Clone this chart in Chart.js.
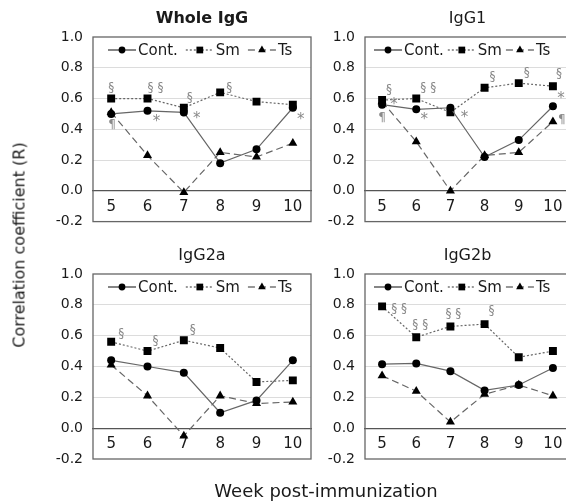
<!DOCTYPE html>
<html><head><meta charset="utf-8">
<script src="https://cdn.jsdelivr.net/npm/chart.js@4/dist/chart.umd.min.js"></script>
<style>
html,body{margin:0;padding:0;width:566px;height:504px;overflow:hidden;background:#fff;}
canvas{position:absolute;}
#ylab{position:absolute;left:19px;top:245px;transform:translate(-50%,-50%) rotate(-90deg);white-space:nowrap;font:16px 'DejaVu Sans';color:#1a1a1a;}
#xlab{position:absolute;left:326px;top:490px;transform:translate(-50%,-50%);white-space:nowrap;font:18px 'DejaVu Sans';color:#1a1a1a;}
</style></head>
<body>
<canvas id="c0" width="292" height="240" style="left:28px;top:0px;width:292px;height:240px"></canvas>
<canvas id="c1" width="282" height="240" style="left:298px;top:0px;width:282px;height:240px"></canvas>
<canvas id="c2" width="292" height="240" style="left:28px;top:240px;width:292px;height:240px"></canvas>
<canvas id="c3" width="282" height="240" style="left:298px;top:240px;width:282px;height:240px"></canvas>
<div id="ylab">Correlation coefficient (R)</div>
<div id="xlab">Week post-immunization</div>
<script>
// ---- data ----
const weeks = ['5','6','7','8','9','10'];
const seriesNames = ['Cont.','Sm','Ts'];
const panelTitles = ['Whole IgG','IgG1','IgG2a','IgG2b'];
const yTicks = [-0.2,0.0,0.2,0.4,0.6,0.8,1.0];

const wholeCont = [0.50,0.52,0.51,0.18,0.27,0.54];
const wholeSm   = [0.60,0.60,0.54,0.64,0.58,0.56];
const wholeTs   = [0.51,0.23,-0.01,0.25,0.22,0.31];

const igg1Cont = [0.56,0.53,0.54,0.22,0.33,0.55];
const igg1Sm   = [0.59,0.60,0.51,0.67,0.70,0.68];
const igg1Ts   = [0.58,0.32,0.00,0.23,0.25,0.45];

const igg2aCont = [0.44,0.40,0.36,0.10,0.18,0.44];
const igg2aSm   = [0.56,0.50,0.57,0.52,0.30,0.31];
const igg2aTs   = [0.41,0.21,-0.05,0.21,0.16,0.17];

const igg2bCont = [0.415,0.42,0.37,0.245,0.28,0.39];
const igg2bSm   = [0.79,0.59,0.66,0.675,0.46,0.50];
const igg2bTs   = [0.34,0.24,0.04,0.22,0.28,0.21];

// significance marks: [symbol, series index, week index]
const wholeMarks = [['§',1,0],['§ §',1,1],['§',1,2],['§',1,3],['¶',0,0],['*',0,1],['*',0,2],['*',0,5]];
const igg1Marks  = [['§',1,0],['*',0,0],['¶',0,0],['§ §',1,1],['*',0,1],['*',0,2],['§',1,3],['§',1,4],['§',1,5],['*',1,5],['¶',2,5]];
const igg2aMarks = [['§',1,0],['§',1,1],['§',1,2]];
const igg2bMarks = [['§ §',1,0],['§ §',1,1],['§ §',1,2],['§',1,3]];

// ---- styling (pixel offsets of marks from their points) ----
const wholeMarkOff = [[0,-11],[8,-11],[6,-10],[9,-5],[1,11],[9,8],[13,4],[8,9]];
const igg1MarkOff  = [[7,-10],[12,-3],[0,13],[12,-11],[8,8],[14,7],[8,-11],[8,-10],[6,-12],[8,10],[9,-2]];
const igg2aMarkOff = [[10,-8],[8,-10],[9,-10]];
const igg2bMarkOff = [[17,2],[4,-12],[3,-13],[7,-13]];

const FONT = "'DejaVu Sans'";
const TXT = '#1a1a1a';
const LINE = '#666';
const seriesStyle = [
  {dash:[], point:'circle', r:4},
  {dash:[2,2], point:'rect', r:5.6},
  {dash:[7,4], point:'triangle', r:5.2}
];

const decoPlugin = {
  id:'deco',
  afterDraw(chart, args, opts){
    const ctx = chart.ctx, a = chart.chartArea;
    ctx.save();
    ctx.strokeStyle = '#666'; ctx.lineWidth = 1.3;
    ctx.strokeRect(a.left, a.top, a.right - a.left, a.bottom - a.top);
    ctx.fillStyle = TXT; ctx.textAlign = 'center'; ctx.textBaseline = 'middle';
    ctx.font = (opts.bold ? 'bold ' : '') + '16px ' + FONT;
    ctx.fillText(opts.title, (a.left + a.right) / 2, a.top - 18);
    ctx.font = '15px ' + FONT;
    ctx.textAlign = 'left';
    let x = a.left + opts.legStart;
    const y = a.top + 13;
    chart.data.datasets.forEach((ds, i) => {
      const st = seriesStyle[i];
      const L = 28;
      ctx.strokeStyle = '#333'; ctx.lineWidth = 1.2;
      ctx.setLineDash(st.dash);
      ctx.beginPath(); ctx.moveTo(x, y); ctx.lineTo(x + L, y); ctx.stroke();
      ctx.setLineDash([]);
      ctx.fillStyle = '#000';
      Chart.helpers.drawPoint(ctx, {pointStyle: st.point, radius: st.r * 0.85, borderWidth: 0}, x + L / 2, y);
      ctx.fillStyle = TXT;
      ctx.fillText(ds.label, x + L + 2, y + 1);
      x += L + 2 + ctx.measureText(ds.label).width + opts.legGap;
    });
    ctx.fillStyle = '#8a8a8a'; ctx.textAlign = 'center'; ctx.textBaseline = 'middle';
    opts.marks.forEach((m, k) => {
      const [sym, si, wi] = m;
      const off = opts.markOff[k];
      const px = chart.scales.x.getPixelForValue(wi);
      const py = chart.scales.y.getPixelForValue(chart.data.datasets[si].data[wi]);
      ctx.font = (sym === '*' ? '15px ' : '12px ') + FONT;
      ctx.fillText(sym, px + off[0], py + off[1] + (sym === '*' ? 3 : 0));
    });
    ctx.restore();
  }
};

function makePanel(id, title, bold, cont, sm, ts, marks, markOff, axisW, pad, legStart, legGap){
  const vals = [cont, sm, ts];
  new Chart(document.getElementById(id), {
    type:'line',
    data:{
      labels: weeks,
      datasets: vals.map((v, i) => ({
        label: seriesNames[i],
        data: v,
        borderColor: LINE,
        borderWidth: 1.2,
        borderDash: seriesStyle[i].dash,
        pointStyle: seriesStyle[i].point,
        pointRadius: seriesStyle[i].r,
        pointBackgroundColor: '#000',
        pointBorderColor: '#000',
        pointBorderWidth: 0,
        tension: 0,
        fill: false
      }))
    },
    options:{
      responsive:false, animation:false, devicePixelRatio:1,
      layout:{padding:pad},
      plugins:{legend:{display:false}, tooltip:{enabled:false},
        deco:{title, bold, marks, markOff, legStart, legGap}},
      scales:{
        x:{type:'category', position:{y:0}, offset:true,
           grid:{display:false, drawTicks:false},
           border:{display:true, color:'#555', width:1.3},
           ticks:{padding:7, color:TXT, font:{family:FONT, size:15}, maxRotation:0}},
        y:{min:-0.2, max:1.0,
           afterBuildTicks: s => { s.ticks = yTicks.map(v => ({value:v})); },
           afterFit: s => { s.width = axisW; },
           grid:{drawTicks:false, lineWidth:1,
                 color: c => (c.tick && c.tick.value > 0.05 && c.tick.value < 0.95) ? '#dcdcdc' : 'rgba(0,0,0,0)'},
           border:{display:false},
           ticks:{padding:10, color:TXT, font:{family:FONT, size:14},
                  callback: v => Number(v).toFixed(1)}}
      }
    },
    plugins:[decoPlugin]
  });
}

makePanel('c0', panelTitles[0], true,  wholeCont, wholeSm, wholeTs, wholeMarks, wholeMarkOff, 65, {left:0,right:9,top:37,bottom:18}, 15, 8);
makePanel('c1', panelTitles[1], false, igg1Cont, igg1Sm, igg1Ts, igg1Marks, igg1MarkOff, 67, {left:0,right:10,top:37,bottom:18}, 9, 4);
makePanel('c2', panelTitles[2], false, igg2aCont, igg2aSm, igg2aTs, igg2aMarks, igg2aMarkOff, 65, {left:0,right:9,top:34,bottom:21}, 15, 8);
makePanel('c3', panelTitles[3], false, igg2bCont, igg2bSm, igg2bTs, igg2bMarks, igg2bMarkOff, 67, {left:0,right:10,top:34,bottom:21}, 9, 4);
</script>
</body></html>
